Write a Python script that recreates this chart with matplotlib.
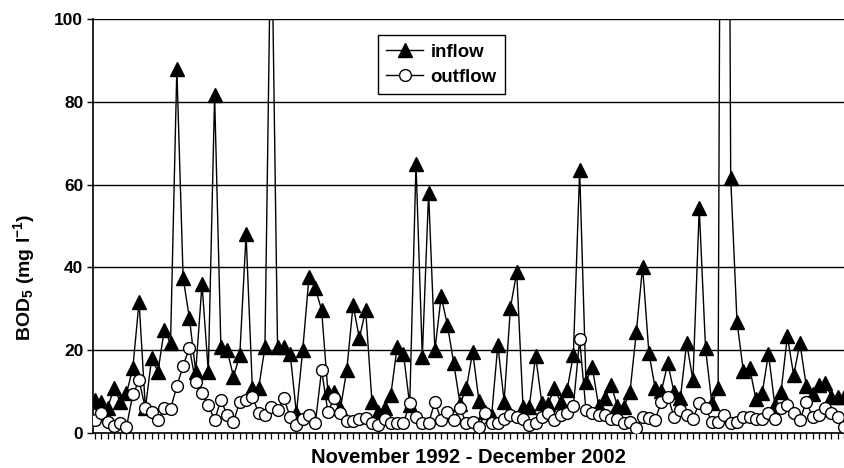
import matplotlib
matplotlib.use('Agg')
import matplotlib.pyplot as plt
import numpy as np

plt.rcParams['font.family'] = ['Liberation Sans', 'DejaVu Sans']
plt.rcParams['font.weight'] = 'bold'
plt.rcParams['mathtext.fontset'] = 'custom'
plt.rcParams['mathtext.rm'] = 'Liberation Sans:bold'
plt.rcParams['mathtext.bf'] = 'Liberation Sans:bold'
plt.rcParams['mathtext.it'] = 'Liberation Sans:bold'

# Monthly BOD5 (mg/l), November 1992 onward
inflow = [8.0, 7.6, 6.0, 10.8, 7.6, 9.6, 15.6, 31.7, 6.0, 18.0,
          14.8, 24.9, 21.7, 88.0, 37.5, 27.7, 14.8, 36.0, 14.8, 81.6,
          20.8, 20.0, 13.6, 18.8, 48.0, 10.8, 10.8, 20.8, 130.0, 20.8,
          20.8, 19.2, 4.8, 20.0, 37.8, 35.0, 29.7, 10.0, 10.0, 6.0,
          15.2, 30.9, 22.9, 29.7, 7.6, 5.0, 6.0, 9.2, 20.8, 19.2,
          6.8, 65.0, 18.4, 58.0, 20.0, 33.0, 26.0, 16.8, 7.0, 10.8,
          19.6, 7.8, 5.0, 4.0, 21.3, 7.6, 30.3, 38.8, 6.4, 6.4,
          18.6, 7.2, 7.1, 10.8, 7.4, 10.4, 18.8, 63.5, 12.4, 16.0,
          6.6, 8.4, 11.6, 6.5, 6.2, 10.0, 24.3, 40.2, 19.4, 10.8,
          10.2, 16.8, 9.8, 8.4, 21.7, 12.8, 54.3, 20.5, 7.2, 10.8,
          400.0, 61.6, 26.9, 15.0, 15.8, 8.2, 9.6, 19.2, 6.8, 10.0,
          23.4, 14.0, 21.7, 11.4, 9.4, 11.7, 12.0, 8.8, 8.8, 8.8]

outflow = [3.1, 4.8, 2.7, 1.7, 2.3, 1.5, 9.3, 12.7, 6.0, 5.0,
           3.1, 6.0, 5.8, 11.3, 16.3, 20.5, 12.2, 9.6, 6.8, 3.1,
           8.0, 4.3, 2.7, 7.6, 8.0, 8.8, 4.8, 4.3, 6.4, 5.6,
           8.4, 3.9, 1.9, 3.3, 4.3, 2.3, 15.2, 5.1, 8.4, 4.8,
           3.0, 3.0, 3.5, 3.7, 2.5, 1.9, 3.3, 2.3, 2.3, 2.3,
           7.2, 3.9, 2.3, 2.3, 7.6, 3.1, 5.1, 3.1, 6.0, 2.3,
           2.7, 1.5, 4.8, 2.3, 2.3, 3.5, 4.3, 3.9, 3.5, 1.9,
           2.3, 3.9, 4.8, 3.1, 4.3, 4.8, 6.5, 22.6, 5.6, 4.9,
           4.3, 4.3, 3.5, 3.3, 2.3, 2.7, 1.1, 3.9, 3.7, 3.2,
           7.6, 8.8, 3.9, 5.6, 4.3, 3.5, 7.2, 6.0, 2.7, 2.7,
           4.3, 2.3, 2.7, 3.9, 3.9, 3.5, 3.5, 4.9, 3.5, 6.0,
           6.8, 4.8, 3.1, 7.6, 3.9, 4.3, 6.0, 4.8, 3.9, 1.5]

series_labels = ['inflow', 'outflow']
yticks = [0, 20, 40, 60, 80, 100]
xlabel = 'November 1992 - December 2002'
ylabel = r'BOD$_{5}$ (mg l$^{-1}$)'

months = np.arange(len(inflow))

fig = plt.figure(figsize=(8.44, 4.68), dpi=100)
ax = fig.add_axes([93 / 844, 35 / 468, 751 / 844, 414 / 468])

ax.plot(months, inflow, color='black', lw=1.0, marker='^', ms=9.5,
        mfc='black', mec='black', label=series_labels[0], zorder=3)
ax.plot(months, outflow, color='black', lw=1.0, marker='o', ms=8.5,
        mfc='white', mec='black', mew=1.0, label=series_labels[1], zorder=4)

ax.set_ylim(0, 100)
ax.set_xlim(-0.32, 119.0)
ax.set_yticks(yticks)
ax.set_yticklabels([str(t) for t in yticks], fontsize=12.5, fontweight='bold')
ax.set_xticks(months)
ax.set_xticklabels([])
ax.tick_params(axis='x', length=4, width=0.9, direction='out', color='black')
ax.tick_params(axis='y', length=4, width=1.0, direction='out', color='black', pad=3)

ax.grid(axis='y', color='black', lw=1.0)
ax.set_axisbelow(True)
for s in ['top', 'right']:
    ax.spines[s].set_visible(False)
for s in ['left', 'bottom']:
    ax.spines[s].set_linewidth(1.2)
    ax.spines[s].set_color('black')

ax.set_xlabel(xlabel, fontsize=14.5, fontweight='bold', labelpad=3)
ax.set_ylabel(ylabel, fontsize=14, fontweight='bold')
ax.yaxis.set_label_coords(-0.074, 0.377)

leg = ax.legend(loc='upper left', bbox_to_anchor=(0.379, 0.961), fontsize=13.4,
                frameon=True, fancybox=False, framealpha=1, edgecolor='black',
                handlelength=2.0, borderaxespad=0, borderpad=0.45,
                labelspacing=0.45, handletextpad=0.4)
leg.get_frame().set_linewidth(1.0)
for t in leg.get_texts():
    t.set_fontweight('bold')

fig.savefig('out.png', dpi=100)
